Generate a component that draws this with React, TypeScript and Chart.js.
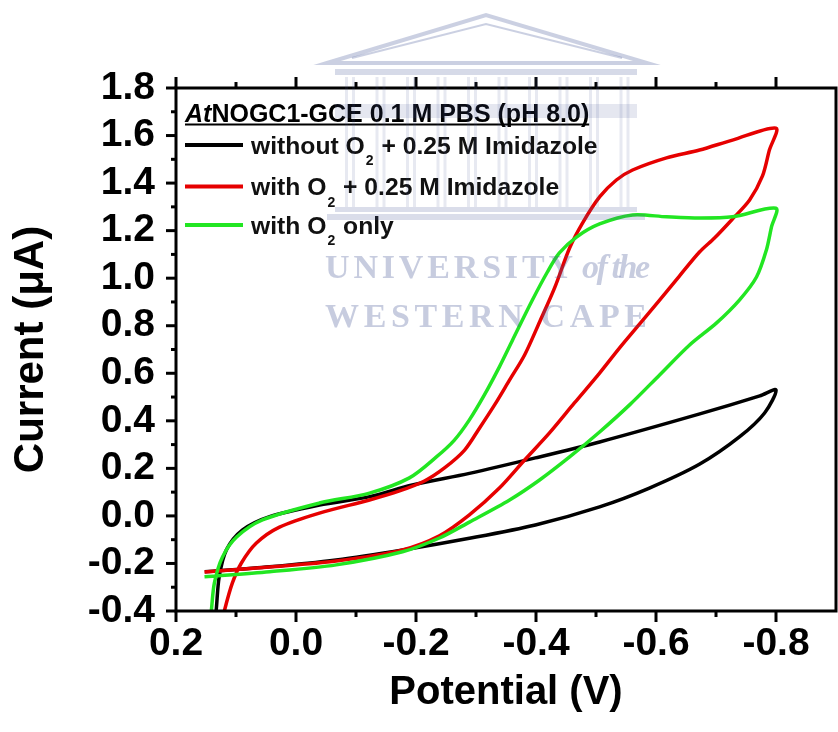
import React, { useEffect, useRef } from 'react';
import { Chart, registerables } from 'chart.js';

Chart.register(...registerables);

const FONT = '"Liberation Sans", Arial, Helvetica, sans-serif';
const SERIF = '"Liberation Serif", "Times New Roman", serif';

// ---- data (potential in V, current in µA) ----
const blackPotential = [0.152, 0.044, -0.067, -0.178, -0.289, -0.399, -0.506, -0.589, -0.673, -0.739, -0.781, -0.8,
  -0.773, -0.673, -0.506, -0.399, -0.289, -0.194, -0.123, -0.039, 0.044, 0.089, 0.116, 0.128, 0.133, 0.136];
const blackCurrent = [-0.235, -0.214, -0.185, -0.143, -0.094, -0.038, 0.038, 0.117, 0.218, 0.332, 0.433, 0.53,
  0.505, 0.429, 0.311, 0.244, 0.179, 0.13, 0.081, 0.046, -0.003, -0.059, -0.143, -0.256, -0.396, -0.46];

const redPotential = [0.1525, 0.044, -0.067, -0.1775, -0.239, -0.289, -0.339, -0.381, -0.4225, -0.464, -0.506, -0.539, -0.5725, -0.606, -0.639, -0.6725, -0.6975, -0.726, -0.756, -0.7775, -0.789, -0.8,
  -0.7275, -0.6725, -0.6175, -0.561, -0.534, -0.506, -0.4775, -0.456, -0.431, -0.406, -0.381, -0.356, -0.331, -0.306, -0.281, -0.2475, -0.214, -0.1725, -0.1225, -0.039, 0.0275, 0.066, 0.091, 0.106, 0.119, 0.124];
const redCurrent = [-0.236, -0.215, -0.19, -0.143, -0.084, 0.004, 0.117, 0.235, 0.349, 0.475, 0.601, 0.706, 0.807, 0.908, 1.009, 1.11, 1.169, 1.245, 1.329, 1.43, 1.539, 1.631,
  1.581, 1.539, 1.506, 1.455, 1.413, 1.342, 1.232, 1.127, 0.959, 0.816, 0.677, 0.572, 0.467, 0.37, 0.277, 0.202, 0.147, 0.105, 0.067, 0.012, -0.047, -0.114, -0.198, -0.282, -0.396, -0.459];

const greenPotential = [0.1525, 0.044, -0.067, -0.1775, -0.239, -0.289, -0.356, -0.406, -0.456, -0.506, -0.556, -0.606, -0.656, -0.701, -0.739, -0.7675, -0.784, -0.7925, -0.8,
  -0.7275, -0.6725, -0.6175, -0.561, -0.506, -0.4675, -0.439, -0.419, -0.394, -0.361, -0.339, -0.314, -0.289, -0.264, -0.234, -0.189, -0.1225, -0.039, 0.056, 0.099, 0.1225, 0.136, 0.141, 0.144];
const greenCurrent = [-0.256, -0.235, -0.206, -0.151, -0.093, -0.026, 0.067, 0.151, 0.248, 0.353, 0.467, 0.593, 0.719, 0.812, 0.908, 1.005, 1.119, 1.216, 1.294,
  1.258, 1.253, 1.258, 1.266, 1.228, 1.173, 1.106, 1.026, 0.908, 0.74, 0.627, 0.509, 0.404, 0.319, 0.248, 0.16, 0.096, 0.054, -0.017, -0.089, -0.173, -0.282, -0.396, -0.459];

const seriesLabels = ['without O₂ + 0.25 M Imidazole', 'with O₂ + 0.25 M Imidazole', 'with O₂ only'];
const seriesColors = ['#000000', '#e60000', '#22e622'];
const legendTitleItalic = 'At';
const legendTitleRest = 'NOGC1-GCE 0.1 M PBS (pH 8.0)';

const xMajorTicks = [0.2, 0.0, -0.2, -0.4, -0.6, -0.8];
const xMinorTicks = [0.1, -0.1, -0.3, -0.5, -0.7];
const yMajorTicks = [-0.4, -0.2, 0.0, 0.2, 0.4, 0.6, 0.8, 1.0, 1.2, 1.4, 1.6, 1.8];
const yMinorTicks = [-0.3, -0.1, 0.1, 0.3, 0.5, 0.7, 0.9, 1.1, 1.3, 1.5, 1.7];

const xTitle = 'Potential (V)';
const yTitle = 'Current (μA)';
const watermarkLines = ['UNIVERSITY', 'of the', 'WESTERN CAPE'];

const toPoints = (xs: number[], ys: number[]) => xs.map((x, i) => ({ x, y: ys[i] }));

const framePlugin = {
  id: 'frameTicks',
  afterDatasetsDraw(chart: any) {
    const { ctx, chartArea: a, scales } = chart;
    const x = scales.x;
    const y = scales.y;
    ctx.save();
    ctx.strokeStyle = '#000';
    ctx.lineWidth = 3;
    ctx.lineCap = 'butt';
    ctx.strokeRect(a.left, a.top, a.right - a.left, a.bottom - a.top);
    const seg = (x1: number, y1: number, x2: number, y2: number) => {
      ctx.beginPath();
      ctx.moveTo(x1, y1);
      ctx.lineTo(x2, y2);
      ctx.stroke();
    };
    xMajorTicks.forEach((v) => {
      const p = x.getPixelForValue(v);
      seg(p, a.bottom, p, a.bottom + 11);
      seg(p, a.top, p, a.top - 11);
    });
    xMinorTicks.forEach((v) => {
      const p = x.getPixelForValue(v);
      seg(p, a.bottom, p, a.bottom + 6);
      seg(p, a.top, p, a.top - 6);
    });
    yMajorTicks.forEach((v) => {
      const p = y.getPixelForValue(v);
      seg(a.left - 10, p, a.left, p);
    });
    yMinorTicks.forEach((v) => {
      const p = y.getPixelForValue(v);
      seg(a.left - 5, p, a.left, p);
    });
    ctx.restore();
  },
};

const legendPlugin = {
  id: 'insideLegend',
  afterDraw(chart: any) {
    const { ctx } = chart;
    ctx.save();
    ctx.fillStyle = '#000';
    ctx.textBaseline = 'alphabetic';
    ctx.textAlign = 'left';
    const x0 = 185;
    ctx.font = `italic bold 25px ${FONT}`;
    ctx.fillText(legendTitleItalic, x0, 122);
    const w1 = ctx.measureText(legendTitleItalic).width;
    ctx.font = `bold 25px ${FONT}`;
    ctx.fillText(legendTitleRest, x0 + w1, 122);
    const w2 = ctx.measureText(legendTitleRest).width;
    ctx.fillRect(x0, 123.5, w1 + w2, 2);
    const lineYs = [145, 186.5, 225];
    chart.data.datasets.forEach((ds: any, i: number) => {
      const ly = lineYs[i];
      ctx.strokeStyle = ds.borderColor;
      ctx.lineWidth = 4;
      ctx.beginPath();
      ctx.moveTo(x0, ly);
      ctx.lineTo(243, ly);
      ctx.stroke();
      const base = ly + 8.5;
      let tx = 251;
      const parts = String(ds.label).split('₂');
      parts.forEach((part: string, j: number) => {
        ctx.font = `bold 24.7px ${FONT}`;
        ctx.fillStyle = '#111';
        ctx.fillText(part, tx, base);
        tx += ctx.measureText(part).width;
        if (j < parts.length - 1) {
          ctx.font = `bold 14px ${FONT}`;
          ctx.fillText('2', tx + 1, base + 11.5);
          tx += ctx.measureText('2').width + 2;
        }
      });
    });
    ctx.restore();
  },
};

const watermarkPlugin = {
  id: 'watermark',
  afterDraw(chart: any) {
    const { ctx } = chart;
    ctx.save();
    const base = '70, 85, 150';
    ctx.strokeStyle = `rgba(${base}, 0.28)`;
    ctx.lineWidth = 4;
    ctx.beginPath();
    ctx.moveTo(327, 63);
    ctx.lineTo(486, 15);
    ctx.lineTo(647, 63);
    ctx.closePath();
    ctx.stroke();
    ctx.lineWidth = 2;
    ctx.beginPath();
    ctx.moveTo(352, 58);
    ctx.lineTo(486, 24);
    ctx.lineTo(622, 58);
    ctx.stroke();
    ctx.fillStyle = `rgba(${base}, 0.22)`;
    ctx.fillRect(335, 69, 302, 6);
    ctx.fillStyle = `rgba(${base}, 0.14)`;
    ctx.fillRect(335, 104, 302, 14);
    ctx.fillStyle = `rgba(${base}, 0.13)`;
    for (let i = 0; i < 10; i++) {
      const cx = 345 + i * 30.5;
      ctx.fillRect(cx, 77, 3, 130);
      ctx.fillRect(cx + 7, 77, 3, 130);
    }
    ctx.fillStyle = `rgba(${base}, 0.2)`;
    ctx.fillRect(335, 207, 302, 5);
    ctx.fillRect(327, 214, 318, 6);
    const fit = (text: string, font: string, x: number, y: number, width: number) => {
      ctx.font = font;
      (ctx as any).letterSpacing = '0px';
      const w = ctx.measureText(text).width;
      const s = text.length > 1 ? (width - w) / (text.length - 1) : 0;
      (ctx as any).letterSpacing = `${s}px`;
      ctx.fillText(text, x, y);
      (ctx as any).letterSpacing = '0px';
    };
    ctx.fillStyle = `rgba(${base}, 0.3)`;
    ctx.textBaseline = 'alphabetic';
    ctx.textAlign = 'left';
    fit(watermarkLines[0], `bold 34px ${SERIF}`, 325, 278, 248);
    fit(watermarkLines[1], `italic bold 34px ${SERIF}`, 582, 278, 68);
    fit(watermarkLines[2], `bold 34px ${SERIF}`, 325, 327, 322);
    ctx.restore();
  },
};

export default function App() {
  const ref = useRef<HTMLCanvasElement>(null);
  useEffect(() => {
    document.body.style.margin = '0';
    const canvas = ref.current;
    if (!canvas) return;
    const series = [
      { xs: blackPotential, ys: blackCurrent, order: 3 },
      { xs: redPotential, ys: redCurrent, order: 2 },
      { xs: greenPotential, ys: greenCurrent, order: 1 },
    ];
    const tickFont = { family: FONT, size: 39, weight: 'bold', lineHeight: 1.2 };
    const xTitleFont = { family: FONT, size: 40, weight: 'bold', lineHeight: 1.2 };
    const yTitleFont = { family: FONT, size: 42, weight: 'bold', lineHeight: 1.2 };
    const chart = new Chart(canvas, {
      type: 'scatter',
      data: {
        datasets: series.map((s, i) => ({
          label: seriesLabels[i],
          data: toPoints(s.xs, s.ys),
          showLine: true,
          borderColor: seriesColors[i],
          backgroundColor: seriesColors[i],
          borderWidth: 3.5,
          pointRadius: 0,
          tension: 0.3,
          fill: false,
          order: s.order,
        })),
      },
      options: {
        responsive: false,
        animation: false,
        devicePixelRatio: 1,
        layout: { padding: { top: 88, right: 2, left: 0, bottom: 0 } },
        plugins: {
          legend: { display: false },
          tooltip: { enabled: false },
        },
        scales: {
          x: {
            type: 'linear',
            position: 'bottom',
            min: -0.9,
            max: 0.2,
            reverse: true,
            afterBuildTicks: (s: any) => {
              s.ticks = xMajorTicks.map((v) => ({ value: v }));
            },
            afterFit: (s: any) => {
              s.height = 121;
              s.paddingLeft = 0;
              s.paddingRight = 0;
            },
            grid: { display: false, drawTicks: false },
            border: { display: false },
            ticks: {
              autoSkip: false,
              maxRotation: 0,
              color: '#000',
              padding: 10,
              font: tickFont,
              callback: (v: any) => Number(v).toFixed(1),
            },
            title: {
              display: true,
              text: xTitle,
              color: '#000',
              font: xTitleFont,
              padding: { top: 0, bottom: 15 },
            },
          },
          y: {
            type: 'linear',
            position: 'left',
            min: -0.4,
            max: 1.8,
            afterBuildTicks: (s: any) => {
              s.ticks = yMajorTicks.map((v) => ({ value: v }));
            },
            afterFit: (s: any) => {
              s.width = 176;
              s.paddingTop = 0;
              s.paddingBottom = 0;
            },
            grid: { display: false, drawTicks: false },
            border: { display: false },
            ticks: {
              autoSkip: false,
              color: '#000',
              padding: 21,
              font: tickFont,
              callback: (v: any) => Number(v).toFixed(1),
            },
            title: {
              display: true,
              text: yTitle,
              color: '#000',
              font: yTitleFont,
              padding: { top: 6, bottom: 0 },
            },
          },
        },
      },
      plugins: [framePlugin, legendPlugin, watermarkPlugin],
    } as any);
    return () => chart.destroy();
  }, []);
  return (
    <div style={{ width: 838, height: 732, background: '#fff' }}>
      <canvas ref={ref} width={838} height={732} style={{ display: 'block' }} />
    </div>
  );
}
